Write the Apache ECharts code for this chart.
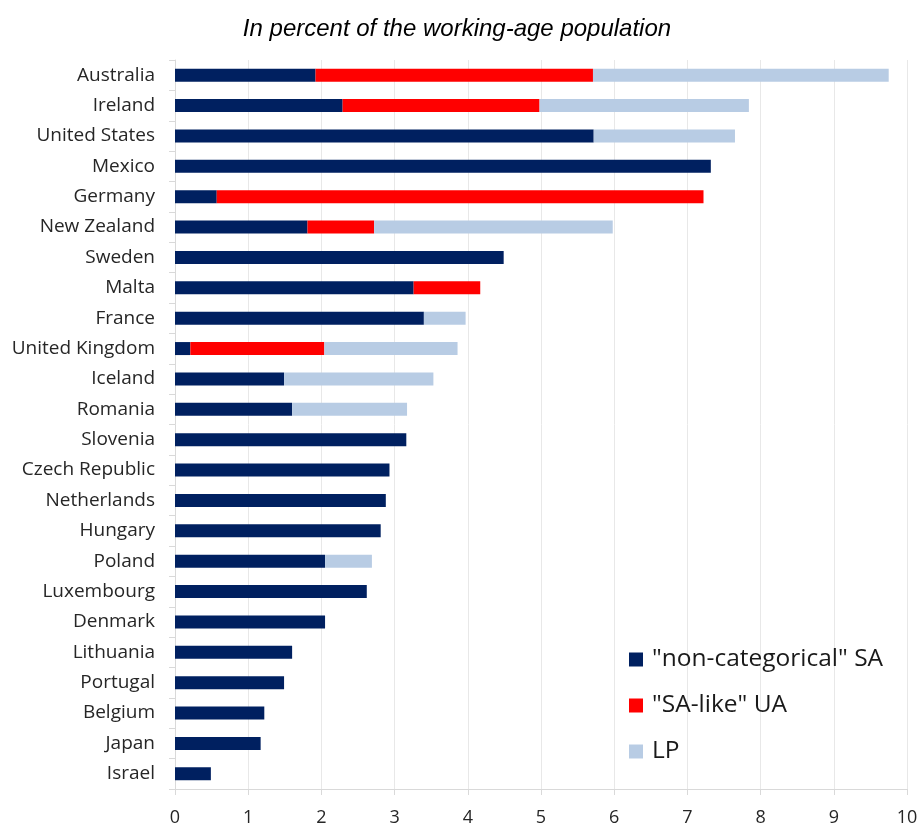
<!DOCTYPE html>
<html>
<head>
<meta charset="utf-8">
<script src="https://cdn.jsdelivr.net/npm/echarts@6/dist/echarts.min.js"></script>
<style>
  html, body { margin: 0; padding: 0; background: #fff; }
  #chart { width: 922px; height: 825px; }
</style>
</head>
<body>
<div id="chart"></div>
<script>
// categories, top to bottom
const countries = ['Australia', 'Ireland', 'United States', 'Mexico', 'Germany', 'New Zealand',
  'Sweden', 'Malta', 'France', 'United Kingdom', 'Iceland', 'Romania', 'Slovenia',
  'Czech Republic', 'Netherlands', 'Hungary', 'Poland', 'Luxembourg', 'Denmark',
  'Lithuania', 'Portugal', 'Belgium', 'Japan', 'Israel'];

// stacked segments (percent of working-age population)
const nonCategoricalSA = [1.92, 2.29, 5.72, 7.32, 0.57, 1.81, 4.49, 3.26, 3.40, 0.21, 1.49, 1.60, 3.16,
  2.93, 2.88, 2.81, 2.05, 2.62, 2.05, 1.60, 1.49, 1.22, 1.17, 0.49];
const saLikeUA = [3.79, 2.69, 0, 0, 6.65, 0.91, 0, 0.91, 0, 1.83, 0, 0, 0,
  0, 0, 0, 0, 0, 0, 0, 0, 0, 0, 0];
const lp = [4.04, 2.86, 1.93, 0, 0, 3.26, 0, 0, 0.57, 1.82, 2.04, 1.57, 0,
  0, 0, 0, 0.64, 0, 0, 0, 0, 0, 0, 0];

const seriesNames = ['"non-categorical" SA', '"SA-like" UA', 'LP'];
const seriesColors = ['#002060', '#ff0000', '#b8cce4'];

var chart = echarts.init(document.getElementById('chart'), null, { renderer: 'canvas' });

function makeSeries(name, data, color) {
  return {
    name: name,
    type: 'bar',
    stack: 'total',
    barWidth: 13,
    data: data,
    itemStyle: { color: color },
    animation: false
  };
}

chart.setOption({
  backgroundColor: '#fff',
  title: {
    text: 'In percent of the working-age population',
    left: 452,
    textAlign: 'center',
    top: 12,
    textStyle: {
      fontFamily: 'Liberation Sans',
      fontStyle: 'italic',
      fontWeight: 'normal',
      fontSize: 24,
      color: '#000'
    }
  },
  grid: {
    left: 175,
    right: 15,
    top: 60,
    bottom: 36,
    containLabel: false,
    outerBoundsMode: 'none'
  },
  legend: {
    orient: 'vertical',
    left: 624,
    top: 642,
    itemWidth: 14,
    itemHeight: 14,
    itemGap: 21,
    icon: 'rect',
    data: seriesNames,
    textStyle: {
      fontFamily: 'Open Sans',
      fontSize: 24.5,
      color: '#1a1a1a',
      padding: [0, 0, 0, 4]
    }
  },
  xAxis: {
    type: 'value',
    min: 0,
    max: 10,
    interval: 1,
    axisLine: { show: true, lineStyle: { color: '#d9d9d9', width: 1 } },
    axisTick: { show: true, length: 6, lineStyle: { color: '#d9d9d9' } },
    splitLine: { show: true, lineStyle: { color: '#e8e8e8', width: 1 } },
    axisLabel: {
      fontFamily: 'Open Sans',
      fontSize: 18,
      color: '#262626',
      margin: 20
    }
  },
  yAxis: {
    type: 'category',
    inverse: true,
    data: countries,
    axisLine: { show: true, lineStyle: { color: '#d9d9d9', width: 1 } },
    axisTick: { show: true, length: 6, lineStyle: { color: '#d9d9d9' } },
    axisLabel: {
      fontFamily: 'Open Sans',
      fontSize: 19,
      color: '#262626',
      margin: 20
    }
  },
  series: [
    makeSeries(seriesNames[0], nonCategoricalSA, seriesColors[0]),
    makeSeries(seriesNames[1], saLikeUA, seriesColors[1]),
    makeSeries(seriesNames[2], lp, seriesColors[2])
  ]
});
</script>
</body>
</html>
